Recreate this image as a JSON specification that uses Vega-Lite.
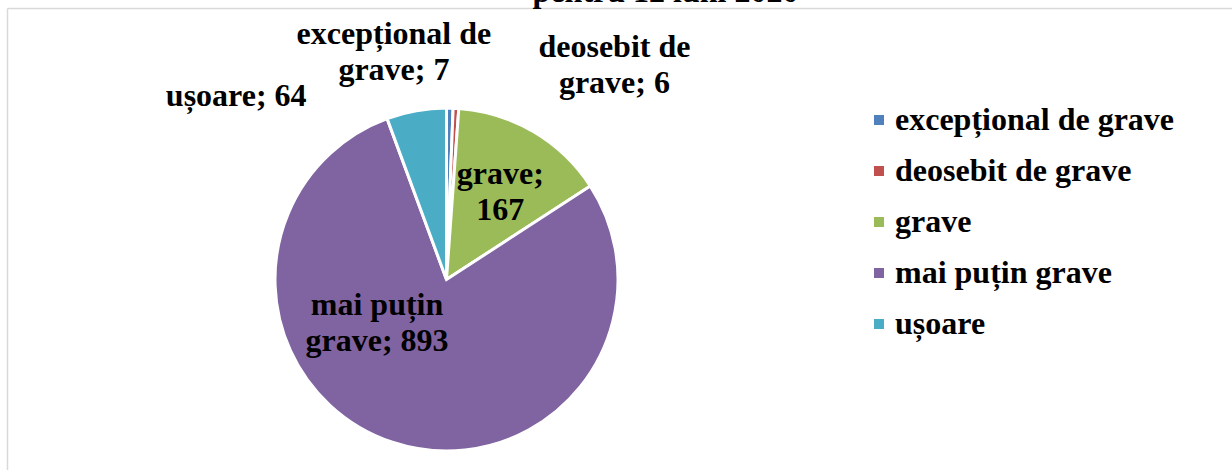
{
  "$schema": "https://vega.github.io/schema/vega-lite/v6.json",
  "autosize": {"type": "none"},
  "padding": {"left": 7, "top": 89, "right": 346, "bottom": 0},
  "width": 879,
  "height": 381,
  "background": "white",
  "title": {
    "text": "pentru 12 luni 2020",
    "font": "Liberation Serif",
    "fontSize": 32,
    "fontWeight": "bold",
    "color": "black",
    "anchor": "middle",
    "frame": "group",
    "baseline": "alphabetic",
    "offset": -26,
    "dx": 219
  },
  "data": {
    "values": [
      {"cat": "excepțional de grave", "value": 7, "label": "excepțional de\ngrave; 7", "i": 1},
      {"cat": "deosebit de grave", "value": 6, "label": "deosebit de\ngrave; 6", "i": 2},
      {"cat": "grave", "value": 167, "label": "grave;\n167", "i": 3},
      {"cat": "mai puțin grave", "value": 893, "label": "mai puțin\ngrave; 893", "i": 4},
      {"cat": "ușoare", "value": 64, "label": "ușoare; 64", "i": 5}
    ]
  },
  "layer": [
    {
      "mark": {"type": "arc", "outerRadius": 171.5, "stroke": "white", "strokeWidth": 3},
      "encoding": {
        "theta": {"field": "value", "type": "quantitative", "stack": true},
        "order": {"field": "i", "type": "quantitative"},
        "color": {
          "field": "cat",
          "type": "nominal",
          "scale": {
            "domain": ["excepțional de grave", "deosebit de grave", "grave", "mai puțin grave", "ușoare"],
            "range": ["#4F81BD", "#C0504D", "#9BBB59", "#8064A2", "#4BACC6"]
          },
          "legend": {
            "title": null,
            "orient": "none",
            "legendX": 856,
            "legendY": 15,
            "symbolType": "square",
            "symbolSize": 100,
            "symbolStrokeWidth": 0,
            "labelFont": "Liberation Serif",
            "labelFontSize": 32,
            "labelFontWeight": "bold",
            "labelColor": "black",
            "labelOffset": 0,
            "labelLimit": 600,
            "rowPadding": 19
          }
        }
      }
    },
    {
      "mark": {"type": "point", "opacity": 0},
      "encoding": {
        "x": {
          "field": "value",
          "type": "quantitative",
          "scale": {"range": [0, 1245]},
          "axis": {"orient": "top", "offset": 81, "domainColor": "#d9d9d9", "domainWidth": 1.5, "ticks": false, "labels": false, "grid": false, "title": null}
        },
        "y": {
          "field": "value",
          "type": "quantitative",
          "scale": {"range": [381, -81]},
          "axis": {"orient": "left", "domainColor": "#d9d9d9", "domainWidth": 1.5, "ticks": false, "labels": false, "grid": false, "title": null}
        }
      }
    },
    {
      "mark": {"type": "text", "radius": 228, "dx": -57, "dy": -18, "font": "Liberation Serif", "fontSize": 32, "fontWeight": "bold", "lineBreak": "\n", "lineHeight": 36, "baseline": "middle", "align": "center", "color": "black"},
      "encoding": {
        "theta": {"field": "value", "type": "quantitative", "stack": true},
        "order": {"field": "i", "type": "quantitative"},
        "text": {"condition": {"test": "datum.cat === 'excepțional de grave'", "field": "label"}, "value": ""}
      }
    },
    {
      "mark": {"type": "text", "radius": 216, "dx": 156, "dy": -17, "font": "Liberation Serif", "fontSize": 32, "fontWeight": "bold", "lineBreak": "\n", "lineHeight": 36, "baseline": "middle", "align": "center", "color": "black"},
      "encoding": {
        "theta": {"field": "value", "type": "quantitative", "stack": true},
        "order": {"field": "i", "type": "quantitative"},
        "text": {"condition": {"test": "datum.cat === 'deosebit de grave'", "field": "label"}, "value": ""}
      }
    },
    {
      "mark": {"type": "text", "radius": 187, "dx": -107, "dy": 1, "font": "Liberation Serif", "fontSize": 32, "fontWeight": "bold", "lineBreak": "\n", "lineHeight": 36, "baseline": "middle", "align": "right", "color": "black"},
      "encoding": {
        "theta": {"field": "value", "type": "quantitative", "stack": true},
        "order": {"field": "i", "type": "quantitative"},
        "text": {"condition": {"test": "datum.cat === 'ușoare'", "field": "label"}, "value": ""}
      }
    },
    {
      "mark": {"type": "text", "radius": 102, "dx": 2, "dy": -18, "font": "Liberation Serif", "fontSize": 32, "fontWeight": "bold", "lineBreak": "\n", "lineHeight": 36, "baseline": "middle", "align": "center", "color": "black"},
      "encoding": {
        "theta": {"field": "value", "type": "quantitative", "stack": true},
        "order": {"field": "i", "type": "quantitative"},
        "text": {"condition": {"test": "datum.cat === 'grave'", "field": "label"}, "value": ""}
      }
    },
    {
      "mark": {"type": "text", "radius": 65, "dx": -49, "dy": -36, "font": "Liberation Serif", "fontSize": 32, "fontWeight": "bold", "lineBreak": "\n", "lineHeight": 36, "baseline": "middle", "align": "center", "color": "black"},
      "encoding": {
        "theta": {"field": "value", "type": "quantitative", "stack": true},
        "order": {"field": "i", "type": "quantitative"},
        "text": {"condition": {"test": "datum.cat === 'mai puțin grave'", "field": "label"}, "value": ""}
      }
    }
  ],
  "config": {
    "view": {"stroke": null}
  }
}
